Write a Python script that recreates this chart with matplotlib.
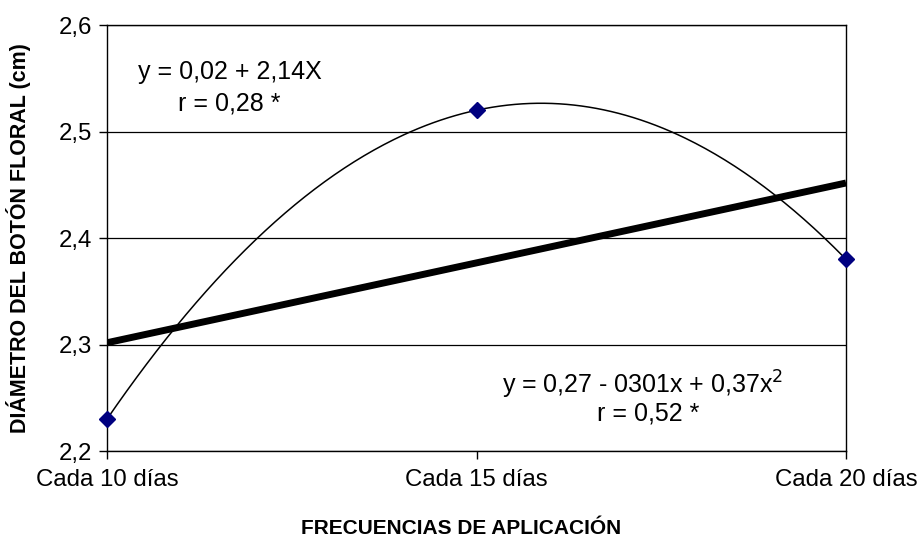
import numpy as np
import matplotlib
matplotlib.use("Agg")
import matplotlib.pyplot as plt

plt.rcParams['font.family'] = ['Liberation Sans', 'DejaVu Sans']

categories = ["Cada 10 días", "Cada 15 días", "Cada 20 días"]
diametro = [2.23, 2.52, 2.38]
yticks = [2.2, 2.3, 2.4, 2.5, 2.6]
yticklabels = ["2,2", "2,3", "2,4", "2,5", "2,6"]
eq_lin = ["y = 0,02 + 2,14X", "r = 0,28 *"]
eq_quad = ["y = 0,27 - 0301x + 0,37x$^{2}$", "r = 0,52 *"]

x = np.arange(len(categories))

fig = plt.figure(figsize=(9.21, 5.37), dpi=100)
ax = fig.add_axes([0.1162, 0.1601, 0.8024, 0.7933])

# trend lines fitted to the data
xs = np.linspace(x[0], x[-1], 300)
lin = np.polyfit(x, diametro, 1)
quad = np.polyfit(x, diametro, 2)
ax.plot(xs, np.polyval(lin, xs), color='black', lw=5, solid_capstyle='butt', zorder=3)
ax.plot(xs, np.polyval(quad, xs), color='black', lw=1.1, zorder=3)
ax.plot(x, diametro, linestyle='none', marker='D', color='#000080', markersize=8, zorder=4, clip_on=False)

ax.set_xlim(x[0], x[-1])
ax.set_ylim(yticks[0], yticks[-1])
ax.set_yticks(yticks)
ax.set_yticklabels(yticklabels, fontsize=17.3)
ax.set_xticks(x)
ax.set_xticklabels(categories, fontsize=17.3)
ax.tick_params(axis='both', direction='out', length=6, width=1, color='black')
ax.tick_params(axis='x', pad=7)
ax.tick_params(axis='y', pad=5)
ax.yaxis.grid(True, color='black', lw=0.9)
ax.set_axisbelow(True)
for s in ax.spines.values():
    s.set_color('black')
    s.set_linewidth(1)

ax.set_ylabel("DIÁMETRO DEL BOTÓN FLORAL (cm)", fontsize=15.5, fontweight='bold', labelpad=20)
fig.text(461 / 921, 1 - 528 / 537, "FRECUENCIAS DE APLICACIÓN",
         fontsize=15, fontweight='bold', ha='center', va='center')

fig.text(138/921, 1-72/537, eq_lin[0], fontsize=18, ha='left', va='center')
fig.text(229/921, 1-103/537, eq_lin[1], fontsize=18, ha='center', va='center')
fig.text(502/921, 1-385/537, eq_quad[0], fontsize=18, ha='left', va='center')
fig.text(648/921, 1-413/537, eq_quad[1], fontsize=18, ha='center', va='center')

fig.savefig("out.png", dpi=100)
